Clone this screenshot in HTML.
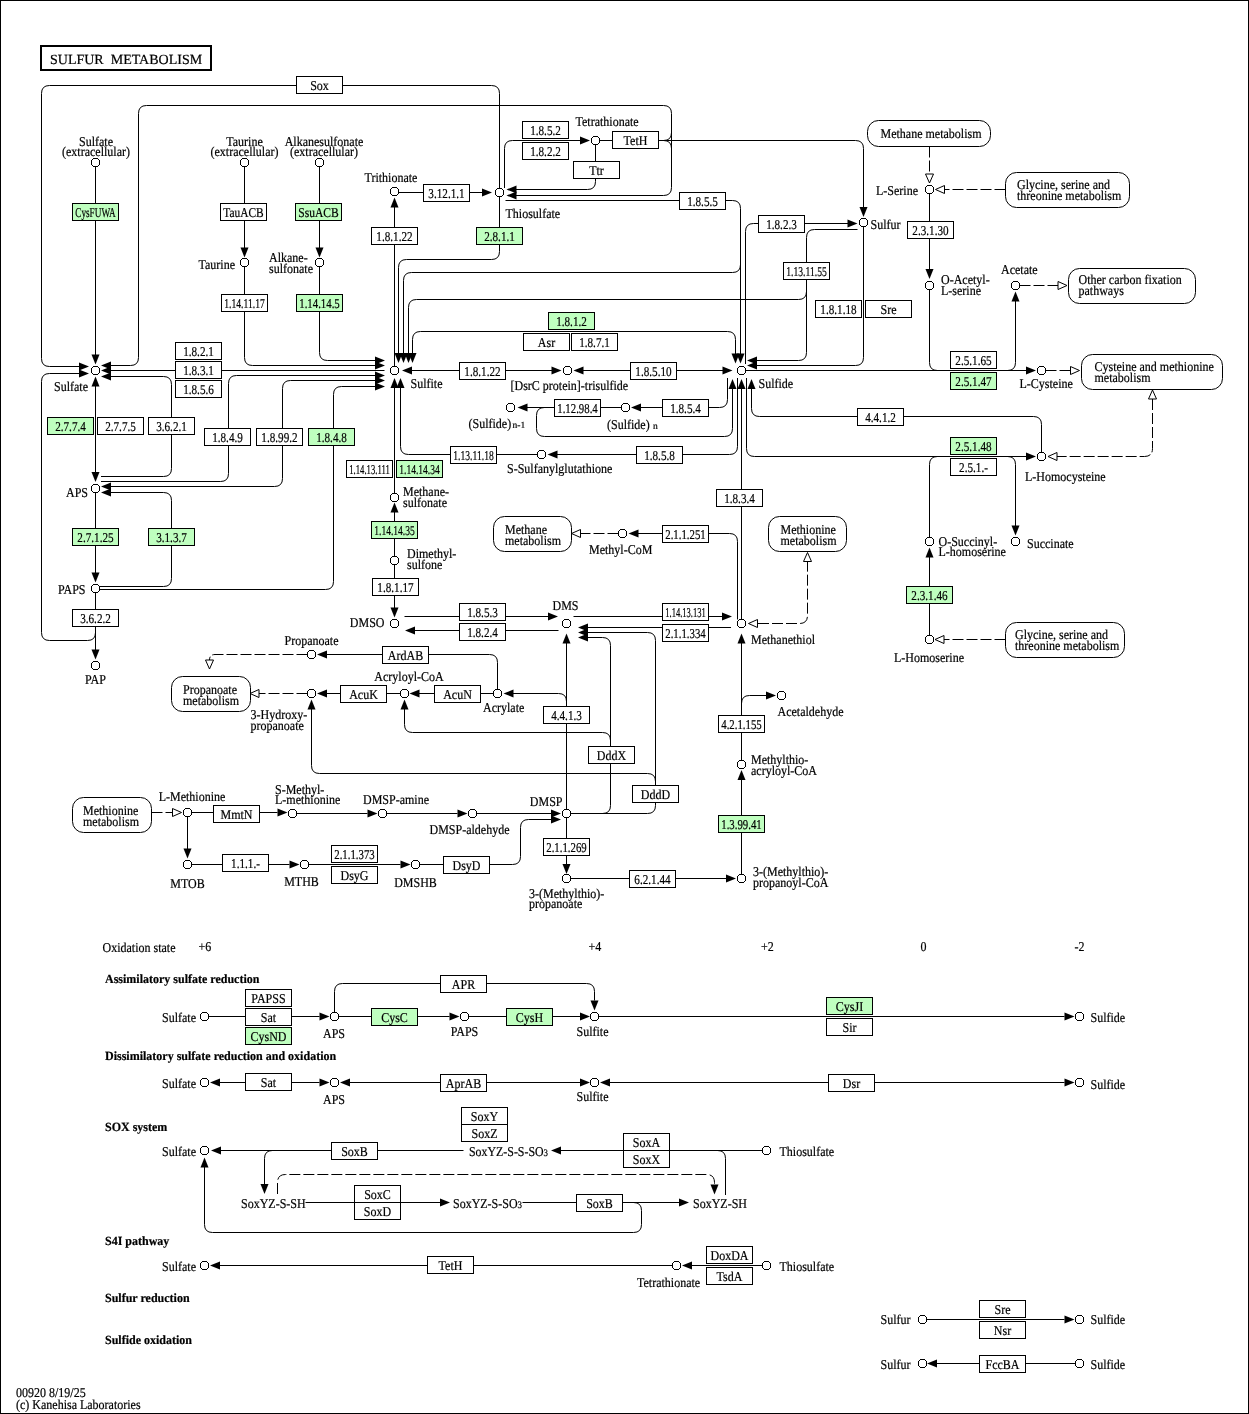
<!DOCTYPE html>
<html><head><meta charset="utf-8"><title>Sulfur metabolism</title>
<style>
html,body{margin:0;padding:0;background:#fff;}
body{width:1249px;height:1414px;overflow:hidden;}
svg{display:block;will-change:transform;}
svg text{font-family:"Liberation Serif",serif;text-rendering:geometricPrecision;stroke:#000;stroke-width:0.2px;font-size:13.5px;fill:#000;}
.bt{font-size:13.5px;}
.t{fill:#000;}
.bt{text-anchor:middle;}
.bold{font-weight:bold;font-size:12.5px;}
path{fill:none;stroke:#000;stroke-width:1;}
.a{fill:#000;stroke:none;}
.o{fill:#fff;stroke:#000;stroke-width:1;}
.c{fill:#fff;stroke:#000;stroke-width:1;shape-rendering:crispEdges;}
.b{fill:#fff;stroke:#000;stroke-width:1;}
.g{fill:#bfffbf;stroke:#000;stroke-width:1;}
.m{fill:#fff;stroke:#000;stroke-width:1;}
</style></head><body>
<svg width="1249" height="1414" viewBox="0 0 1249 1414">
<rect x="0.5" y="0.5" width="1248" height="1413" fill="#fff" stroke="#000" stroke-width="1"/>
<rect x="41" y="46" width="170" height="24" fill="#fff" stroke="#000" stroke-width="2"/>
<text x="50" y="64" style="font-size:14px">SULFUR&#160;&#160;METABOLISM</text>
<path d="M80,366.5 L49.5,366.5 Q41.5,366.5 41.5,358.5 L41.5,93.5 Q41.5,85.5 49.5,85.5 L491.5,85.5 Q499.5,85.5 499.5,93.5 L499.5,188.5"/>
<path d="M80,373.5 L49.5,373.5 Q41.5,373.5 41.5,381.5 L41.5,632.5 Q41.5,640.5 49.5,640.5 L87.5,640.5 Q95.5,640.5 95.5,632.5 L95.5,626"/>
<path d="M109,365.5 L130.5,365.5 Q138.5,365.5 138.5,357.5 L138.5,113.5 Q138.5,105.5 146.5,105.5 L663.5,105.5 Q671.5,105.5 671.5,113.5 L671.5,187.5 Q671.5,195.5 663.5,195.5 L514,195.5"/>
<path d="M658.5,140.5 L663.5,140.5 Q671.5,140.5 671.5,132.5"/>
<path d="M663.5,140.5 Q671.5,140.5 671.5,148.5"/>
<path d="M658.5,140.5 L855.5,140.5 Q863.5,140.5 863.5,148.5 L863.5,207"/>
<path d="M599.5,140.5 L612.5,140.5"/>
<path d="M95.5,166.5 L95.5,355"/>
<path d="M244.5,166.5 L244.5,248.5"/>
<path d="M319.5,166.5 L319.5,248.5"/>
<path d="M244.5,266.5 L244.5,357.5 Q244.5,365.5 252.5,365.5 L375,365.5"/>
<path d="M319.5,266.5 L319.5,352.5 Q319.5,360.5 327.5,360.5 L375,360.5"/>
<path d="M109,370.5 L384.5,370.5"/>
<path d="M109,376.5 L163.5,376.5 Q171.5,376.5 171.5,384.5 L171.5,468.5 Q171.5,476.5 163.5,476.5 L101,476.5"/>
<path d="M375,375.5 L236.5,375.5 Q228.5,375.5 228.5,383.5 L228.5,473.5 Q228.5,481.5 220.5,481.5 L101,481.5"/>
<path d="M375,380.5 L290.5,380.5 Q282.5,380.5 282.5,388.5 L282.5,478.5 Q282.5,486.5 274.5,486.5 L110,486.5"/>
<path d="M375,386.5 L341.5,386.5 Q333.5,386.5 333.5,394.5 L333.5,581.5 Q333.5,589.5 325.5,589.5 L100,589.5"/>
<path d="M110,492.5 L163.5,492.5 Q171.5,492.5 171.5,500.5 L171.5,578.5 Q171.5,586.5 163.5,586.5 L100,586.5"/>
<path d="M95.5,384.5 L95.5,472"/>
<path d="M95.5,492.5 L95.5,573"/>
<path d="M95.5,592.5 L95.5,650"/>
<path d="M394.5,366.5 L394.5,207"/>
<path d="M398.5,192.5 L482,192.5"/>
<path d="M499.5,196.5 L499.5,251.5 Q499.5,259.5 491.5,259.5 L406.5,259.5 Q398.5,259.5 398.5,267.5 L398.5,353"/>
<path d="M740.5,264.5 L740.5,264.5 Q740.5,272.5 732.5,272.5 L411.5,272.5 Q403.5,272.5 403.5,280.5 L403.5,353"/>
<path d="M806.5,290.5 L806.5,291.5 Q806.5,299.5 798.5,299.5 L416.5,299.5 Q408.5,299.5 408.5,307.5 L408.5,353"/>
<path d="M412.5,353 L412.5,339.5 Q412.5,331.5 420.5,331.5 L727.5,331.5 Q735.5,331.5 735.5,339.5 L735.5,354"/>
<path d="M505.5,200.5 L732.5,200.5 Q740.5,200.5 740.5,208.5 L740.5,354"/>
<path d="M745.5,364 L745.5,231.5 Q745.5,223.5 753.5,223.5 L848,223.5"/>
<path d="M857.5,229.5 L814.5,229.5 Q806.5,229.5 806.5,237.5 L806.5,352.5 Q806.5,360.5 798.5,360.5 L756,360.5"/>
<path d="M863.5,226.5 L863.5,357.5 Q863.5,365.5 855.5,365.5 L756,365.5"/>
<path d="M504.5,188 L504.5,148.5 Q504.5,140.5 512.5,140.5 L580,140.5"/>
<path d="M595.5,144.5 L595.5,181.5 Q595.5,189.5 587.5,189.5 L514,189.5"/>
<path d="M411,370.5 L552,370.5"/>
<path d="M582,370.5 L723,370.5"/>
<path d="M621.5,407.5 L525,407.5"/>
<path d="M554.5,407.5 L544.5,407.5 Q536.5,407.5 536.5,415.5 L536.5,428.5 Q536.5,436.5 544.5,436.5 L724.5,436.5 Q732.5,436.5 732.5,428.5 L732.5,388"/>
<path d="M640,407.5 L719.5,407.5 Q727.5,407.5 727.5,399.5 L727.5,378"/>
<path d="M555,454.5 L729.5,454.5 Q737.5,454.5 737.5,446.5 L737.5,378"/>
<path d="M537.5,454.5 L408.5,454.5 Q400.5,454.5 400.5,446.5 L400.5,387"/>
<path d="M394.5,493.5 L394.5,387"/>
<path d="M394.5,556.5 L394.5,511"/>
<path d="M394.5,564.5 L394.5,608"/>
<path d="M404.5,616.5 L548,616.5"/>
<path d="M558.5,630.5 L414,630.5"/>
<path d="M573.5,616.5 L722,616.5"/>
<path d="M731,627.5 L587,627.5"/>
<path d="M570.5,813.5 L647.5,813.5 Q655.5,813.5 655.5,805.5 L655.5,640.5 Q655.5,632.5 647.5,632.5 L587,632.5"/>
<path d="M311.5,709 L311.5,765.5 Q311.5,773.5 319.5,773.5 L647.5,773.5 Q655.5,773.5 655.5,781.5 L655.5,785"/>
<path d="M570.5,813.5 L602.5,813.5 Q610.5,813.5 610.5,805.5 L610.5,645.5 Q610.5,637.5 602.5,637.5 L587,637.5"/>
<path d="M404.5,709 L404.5,724.5 Q404.5,732.5 412.5,732.5 L602.5,732.5 Q610.5,732.5 610.5,740.5 L610.5,745"/>
<path d="M566.5,809.5 L566.5,643"/>
<path d="M513,693.5 L558.5,693.5 Q566.5,693.5 566.5,701.5 L566.5,712"/>
<path d="M497.5,689.5 L497.5,662.5 Q497.5,654.5 489.5,654.5 L326,654.5"/>
<path d="M493.5,693.5 L419,693.5"/>
<path d="M400.5,693.5 L326,693.5"/>
<path d="M307.5,654.5 L215,654.5 Q209.5,654.5 209.5,660 L209.5,660" stroke-dasharray="11,3"/>
<path d="M307.5,693.5 L259,693.5" stroke-dasharray="11,3"/>
<path d="M737.5,619.5 L737.5,541.5 Q737.5,533.5 729.5,533.5 L638,533.5"/>
<path d="M618.5,533.5 L581,533.5" stroke-dasharray="11,3"/>
<path d="M741.5,388 L741.5,619.5"/>
<path d="M758,623.5 L799.5,623.5 Q807.5,623.5 807.5,615.5 L807.5,561" stroke-dasharray="11,3"/>
<path d="M741.5,760.5 L741.5,643"/>
<path d="M741.5,705 L741.5,703.5 Q741.5,695.5 749.5,695.5 L766,695.5"/>
<path d="M741.5,874.5 L741.5,779"/>
<path d="M570.5,878.5 L726,878.5"/>
<path d="M566.5,817.5 L566.5,864"/>
<path d="M191.5,812.5 L277.5,812.5"/>
<path d="M296.5,813.5 L367.5,813.5"/>
<path d="M386.5,813.5 L457.5,813.5"/>
<path d="M476.5,813.5 L551,813.5"/>
<path d="M419.5,864.5 L512.5,864.5 Q520.5,864.5 520.5,856.5 L520.5,827.5 Q520.5,819.5 528.5,819.5 L551,819.5"/>
<path d="M187.5,816.5 L187.5,849"/>
<path d="M191.5,864.5 L289.5,864.5"/>
<path d="M308.5,864.5 L400.5,864.5"/>
<path d="M151.5,812.5 L172,812.5" stroke-dasharray="11,3"/>
<path d="M929.5,146.5 L929.5,174" stroke-dasharray="11,3"/>
<path d="M1005.5,189.5 L945,189.5" stroke-dasharray="11,3"/>
<path d="M929.5,193.5 L929.5,269"/>
<path d="M929.5,289.5 L929.5,362.5 Q929.5,370.5 937.5,370.5 L940,370.5"/>
<path d="M1005,370.5 L1007.5,370.5 Q1015.5,370.5 1015.5,362.5 L1015.5,301"/>
<path d="M745.5,370.5 L1026,370.5"/>
<path d="M1045.5,370.5 L1070,370.5" stroke-dasharray="11,3"/>
<path d="M1019.5,285.5 L1058,285.5" stroke-dasharray="11,3"/>
<path d="M751.5,388 L751.5,408.5 Q751.5,416.5 759.5,416.5 L1033.5,416.5 Q1041.5,416.5 1041.5,424.5 L1041.5,452.5"/>
<path d="M746.5,378 L746.5,448.5 Q746.5,456.5 754.5,456.5 L1026,456.5"/>
<path d="M929.5,537.5 L929.5,464.5 Q929.5,456.5 937.5,456.5 L940,456.5"/>
<path d="M1005,456.5 L1007.5,456.5 Q1015.5,456.5 1015.5,464.5 L1015.5,526"/>
<path d="M1152.5,399 L1152.5,448.5 Q1152.5,456.5 1144.5,456.5 L1057,456.5" stroke-dasharray="11,3"/>
<path d="M929.5,635.5 L929.5,557"/>
<path d="M1005.5,639.5 L944,639.5" stroke-dasharray="11,3"/>
<path d="M208.5,1016.5 L319.5,1016.5"/>
<path d="M338.5,1016.5 L449.5,1016.5"/>
<path d="M468.5,1016.5 L580,1016.5"/>
<path d="M598.5,1016.5 L1064.5,1016.5"/>
<path d="M334.5,1012.5 L334.5,991.5 Q334.5,983.5 342.5,983.5 L586.5,983.5 Q594.5,983.5 594.5,991.5 L594.5,1000.5"/>
<path d="M220,1082.5 L319.5,1082.5"/>
<path d="M350,1082.5 L580,1082.5"/>
<path d="M610,1082.5 L1064.5,1082.5"/>
<path d="M221,1150.5 L463.5,1150.5"/>
<path d="M561,1150.5 L762.5,1150.5"/>
<path d="M272.5,1150.5 L272.5,1150.5 Q264.5,1150.5 264.5,1158.5 L264.5,1184"/>
<path d="M710,1150.5 L717.5,1150.5 Q725.5,1150.5 725.5,1158.5 L725.5,1195"/>
<path d="M277.5,1194 L277.5,1182.5 Q277.5,1174.5 285.5,1174.5 L706.5,1174.5 Q714.5,1174.5 714.5,1182.5 L714.5,1184" stroke-dasharray="11,3"/>
<path d="M305.5,1202.5 L440,1202.5"/>
<path d="M522.5,1202.5 L679,1202.5"/>
<path d="M622.5,1202.5 L633.5,1202.5 Q641.5,1202.5 641.5,1210.5 L641.5,1224.5 Q641.5,1232.5 633.5,1232.5 L212.5,1232.5 Q204.5,1232.5 204.5,1224.5 L204.5,1167"/>
<path d="M220,1265.5 L672.5,1265.5"/>
<path d="M692,1265.5 L762.5,1265.5"/>
<path d="M926.5,1319.5 L1064.5,1319.5"/>
<path d="M937,1363.5 L1075.5,1363.5"/>
<polygon class="a" points="95.5,364.5 91.5,354.5 99.5,354.5"/>
<polygon class="a" points="89,366.5 79,370.5 79,362.5"/>
<polygon class="a" points="89,373.5 79,377.5 79,369.5"/>
<polygon class="a" points="101,365.5 111,361.5 111,369.5"/>
<polygon class="a" points="101,370.5 111,366.5 111,374.5"/>
<polygon class="a" points="101,376.5 111,372.5 111,380.5"/>
<polygon class="a" points="95.5,376.5 99.5,386.5 91.5,386.5"/>
<polygon class="a" points="95.5,482 91.5,472 99.5,472"/>
<polygon class="a" points="101,486.5 111,482.5 111,490.5"/>
<polygon class="a" points="101,492.5 111,488.5 111,496.5"/>
<polygon class="a" points="95.5,582.5 91.5,572.5 99.5,572.5"/>
<polygon class="a" points="95.5,659.5 91.5,649.5 99.5,649.5"/>
<polygon class="a" points="244.5,257.5 240.5,247.5 248.5,247.5"/>
<polygon class="a" points="319.5,257.5 315.5,247.5 323.5,247.5"/>
<polygon class="a" points="385,360.5 375,364.5 375,356.5"/>
<polygon class="a" points="385,365.5 375,369.5 375,361.5"/>
<polygon class="a" points="385,375.5 375,379.5 375,371.5"/>
<polygon class="a" points="385,380.5 375,384.5 375,376.5"/>
<polygon class="a" points="385,386.5 375,390.5 375,382.5"/>
<polygon class="a" points="398.5,363 394.5,353 402.5,353"/>
<polygon class="a" points="403.5,363 399.5,353 407.5,353"/>
<polygon class="a" points="408.5,363 404.5,353 412.5,353"/>
<polygon class="a" points="412.5,363 408.5,353 416.5,353"/>
<polygon class="a" points="394.5,378 398.5,388 390.5,388"/>
<polygon class="a" points="400.5,378 404.5,388 396.5,388"/>
<polygon class="a" points="402,370.5 412,366.5 412,374.5"/>
<polygon class="a" points="394.5,197.5 398.5,207.5 390.5,207.5"/>
<polygon class="a" points="492,192.5 482,196.5 482,188.5"/>
<polygon class="a" points="506.5,189.5 516.5,185.5 516.5,193.5"/>
<polygon class="a" points="506.5,195.5 516.5,191.5 516.5,199.5"/>
<polygon class="a" points="590,140.5 580,144.5 580,136.5"/>
<polygon class="a" points="863.5,217 859.5,207 867.5,207"/>
<polygon class="a" points="857.5,223.5 847.5,227.5 847.5,219.5"/>
<polygon class="a" points="735.5,363.5 731.5,353.5 739.5,353.5"/>
<polygon class="a" points="740.5,363.5 736.5,353.5 744.5,353.5"/>
<polygon class="a" points="747,360.5 757,356.5 757,364.5"/>
<polygon class="a" points="747,365.5 757,361.5 757,369.5"/>
<polygon class="a" points="732.5,370.5 722.5,374.5 722.5,366.5"/>
<polygon class="a" points="732.5,379 736.5,389 728.5,389"/>
<polygon class="a" points="741.5,379 745.5,389 737.5,389"/>
<polygon class="a" points="751.5,379 755.5,389 747.5,389"/>
<polygon class="a" points="561.5,370.5 551.5,374.5 551.5,366.5"/>
<polygon class="a" points="573.5,370.5 583.5,366.5 583.5,374.5"/>
<polygon class="a" points="517.5,407.5 527.5,403.5 527.5,411.5"/>
<polygon class="a" points="631,407.5 641,403.5 641,411.5"/>
<polygon class="a" points="547.5,454.5 557.5,450.5 557.5,458.5"/>
<polygon class="a" points="394.5,502.5 398.5,512.5 390.5,512.5"/>
<polygon class="a" points="394.5,617.5 390.5,607.5 398.5,607.5"/>
<polygon class="a" points="405,630.5 415,626.5 415,634.5"/>
<polygon class="a" points="558,616.5 548,620.5 548,612.5"/>
<polygon class="a" points="578,627.5 588,623.5 588,631.5"/>
<polygon class="a" points="578,632.5 588,628.5 588,636.5"/>
<polygon class="a" points="578,637.5 588,633.5 588,641.5"/>
<polygon class="a" points="566.5,633.5 570.5,643.5 562.5,643.5"/>
<polygon class="a" points="732,616.5 722,620.5 722,612.5"/>
<polygon class="a" points="741.5,633.5 745.5,643.5 737.5,643.5"/>
<polygon class="a" points="628.5,533.5 638.5,529.5 638.5,537.5"/>
<polygon class="a" points="317,654.5 327,650.5 327,658.5"/>
<polygon class="a" points="317,693.5 327,689.5 327,697.5"/>
<polygon class="a" points="409.5,693.5 419.5,689.5 419.5,697.5"/>
<polygon class="a" points="503.5,693.5 513.5,689.5 513.5,697.5"/>
<polygon class="a" points="311.5,699.5 315.5,709.5 307.5,709.5"/>
<polygon class="a" points="404.5,699.5 408.5,709.5 400.5,709.5"/>
<polygon class="a" points="776,695.5 766,699.5 766,691.5"/>
<polygon class="a" points="741.5,770 745.5,780 737.5,780"/>
<polygon class="a" points="736,878.5 726,882.5 726,874.5"/>
<polygon class="a" points="566.5,874 562.5,864 570.5,864"/>
<polygon class="a" points="287.5,812.5 277.5,816.5 277.5,808.5"/>
<polygon class="a" points="377.5,813.5 367.5,817.5 367.5,809.5"/>
<polygon class="a" points="467.5,813.5 457.5,817.5 457.5,809.5"/>
<polygon class="a" points="561,813.5 551,817.5 551,809.5"/>
<polygon class="a" points="561,819.5 551,823.5 551,815.5"/>
<polygon class="a" points="187.5,858.5 183.5,848.5 191.5,848.5"/>
<polygon class="a" points="299.5,864.5 289.5,868.5 289.5,860.5"/>
<polygon class="a" points="410.5,864.5 400.5,868.5 400.5,860.5"/>
<polygon class="a" points="929.5,279 925.5,269 933.5,269"/>
<polygon class="a" points="1015.5,291.5 1019.5,301.5 1011.5,301.5"/>
<polygon class="a" points="1036,370.5 1026,374.5 1026,366.5"/>
<polygon class="a" points="1036,456.5 1026,460.5 1026,452.5"/>
<polygon class="a" points="1015.5,535.5 1011.5,525.5 1019.5,525.5"/>
<polygon class="a" points="929.5,547.5 933.5,557.5 925.5,557.5"/>
<polygon class="a" points="329.5,1016.5 319.5,1020.5 319.5,1012.5"/>
<polygon class="a" points="459.5,1016.5 449.5,1020.5 449.5,1012.5"/>
<polygon class="a" points="590,1016.5 580,1020.5 580,1012.5"/>
<polygon class="a" points="594.5,1010.5 590.5,1000.5 598.5,1000.5"/>
<polygon class="a" points="1074.5,1016.5 1064.5,1020.5 1064.5,1012.5"/>
<polygon class="a" points="210,1082.5 220,1078.5 220,1086.5"/>
<polygon class="a" points="329.5,1082.5 319.5,1086.5 319.5,1078.5"/>
<polygon class="a" points="340,1082.5 350,1078.5 350,1086.5"/>
<polygon class="a" points="590,1082.5 580,1086.5 580,1078.5"/>
<polygon class="a" points="600,1082.5 610,1078.5 610,1086.5"/>
<polygon class="a" points="1074.5,1082.5 1064.5,1086.5 1064.5,1078.5"/>
<polygon class="a" points="211,1150.5 221,1146.5 221,1154.5"/>
<polygon class="a" points="551,1150.5 561,1146.5 561,1154.5"/>
<polygon class="a" points="264.5,1194 260.5,1184 268.5,1184"/>
<polygon class="a" points="714.5,1194.5 710.5,1184.5 718.5,1184.5"/>
<polygon class="a" points="450,1202.5 440,1206.5 440,1198.5"/>
<polygon class="a" points="689,1202.5 679,1206.5 679,1198.5"/>
<polygon class="a" points="204.5,1157.5 208.5,1167.5 200.5,1167.5"/>
<polygon class="a" points="210,1265.5 220,1261.5 220,1269.5"/>
<polygon class="a" points="682,1265.5 692,1261.5 692,1269.5"/>
<polygon class="a" points="1074.5,1319.5 1064.5,1323.5 1064.5,1315.5"/>
<polygon class="a" points="927,1363.5 937,1359.5 937,1367.5"/>
<polygon class="o" points="209.5,669 205.5,660 213.5,660"/>
<polygon class="o" points="250,693.5 259,689.5 259,697.5"/>
<polygon class="o" points="181.5,812.5 172.5,816.5 172.5,808.5"/>
<polygon class="o" points="571.5,533.5 580.5,529.5 580.5,537.5"/>
<polygon class="o" points="748.5,623.5 757.5,619.5 757.5,627.5"/>
<polygon class="o" points="807.5,552.5 811.5,561.5 803.5,561.5"/>
<polygon class="o" points="929.5,183 925.5,174 933.5,174"/>
<polygon class="o" points="935.5,189.5 944.5,185.5 944.5,193.5"/>
<polygon class="o" points="1067,285.5 1058,289.5 1058,281.5"/>
<polygon class="o" points="1079.5,370.5 1070.5,374.5 1070.5,366.5"/>
<polygon class="o" points="1152.5,390 1156.5,399 1148.5,399"/>
<polygon class="o" points="1048,456.5 1057,452.5 1057,460.5"/>
<polygon class="o" points="935,639.5 944,635.5 944,643.5"/>
<rect class="b" x="296.5" y="76.5" width="46" height="17"/>
<text class="bt" x="319.5" y="89.7" textLength="18.67" lengthAdjust="spacingAndGlyphs">Sox</text>
<rect class="g" x="72.5" y="203.5" width="46" height="17"/>
<text class="bt" x="95.5" y="216.7" textLength="40.5" lengthAdjust="spacingAndGlyphs">CysFUWA</text>
<rect class="b" x="220.5" y="203.5" width="46" height="17"/>
<text class="bt" x="243.5" y="216.7" textLength="40.5" lengthAdjust="spacingAndGlyphs">TauACB</text>
<rect class="g" x="295.5" y="203.5" width="46" height="17"/>
<text class="bt" x="318.5" y="216.7" textLength="40.5" lengthAdjust="spacingAndGlyphs">SsuACB</text>
<rect class="b" x="221.5" y="294.5" width="46" height="17"/>
<text class="bt" x="244.5" y="307.7" textLength="40.5" lengthAdjust="spacingAndGlyphs">1.14.11.17</text>
<rect class="g" x="296.5" y="294.5" width="46" height="17"/>
<text class="bt" x="319.5" y="307.7" textLength="40.5" lengthAdjust="spacingAndGlyphs">1.14.14.5</text>
<rect class="b" x="175.5" y="342.5" width="46" height="17"/>
<text class="bt" x="198.5" y="355.7" textLength="30.69" lengthAdjust="spacingAndGlyphs">1.8.2.1</text>
<rect class="b" x="175.5" y="361.5" width="46" height="17"/>
<text class="bt" x="198.5" y="374.7" textLength="30.69" lengthAdjust="spacingAndGlyphs">1.8.3.1</text>
<rect class="b" x="175.5" y="380.5" width="46" height="17"/>
<text class="bt" x="198.5" y="393.7" textLength="30.69" lengthAdjust="spacingAndGlyphs">1.8.5.6</text>
<rect class="g" x="47.5" y="417.5" width="46" height="17"/>
<text class="bt" x="70.5" y="430.7" textLength="30.69" lengthAdjust="spacingAndGlyphs">2.7.7.4</text>
<rect class="b" x="97.5" y="417.5" width="46" height="17"/>
<text class="bt" x="120.5" y="430.7" textLength="30.69" lengthAdjust="spacingAndGlyphs">2.7.7.5</text>
<rect class="b" x="148.5" y="417.5" width="46" height="17"/>
<text class="bt" x="171.5" y="430.7" textLength="30.69" lengthAdjust="spacingAndGlyphs">3.6.2.1</text>
<rect class="b" x="204.5" y="428.5" width="46" height="17"/>
<text class="bt" x="227.5" y="441.7" textLength="30.69" lengthAdjust="spacingAndGlyphs">1.8.4.9</text>
<rect class="b" x="256.5" y="428.5" width="46" height="17"/>
<text class="bt" x="279.5" y="441.7" textLength="36.27" lengthAdjust="spacingAndGlyphs">1.8.99.2</text>
<rect class="g" x="308.5" y="428.5" width="46" height="17"/>
<text class="bt" x="331.5" y="441.7" textLength="30.69" lengthAdjust="spacingAndGlyphs">1.8.4.8</text>
<rect class="g" x="72.5" y="528.5" width="46" height="17"/>
<text class="bt" x="95.5" y="541.7" textLength="36.27" lengthAdjust="spacingAndGlyphs">2.7.1.25</text>
<rect class="g" x="148.5" y="528.5" width="46" height="17"/>
<text class="bt" x="171.5" y="541.7" textLength="30.69" lengthAdjust="spacingAndGlyphs">3.1.3.7</text>
<rect class="b" x="72.5" y="609.5" width="46" height="17"/>
<text class="bt" x="95.5" y="622.7" textLength="30.69" lengthAdjust="spacingAndGlyphs">3.6.2.2</text>
<rect class="b" x="371.5" y="227.5" width="46" height="17"/>
<text class="bt" x="394.5" y="240.7" textLength="36.27" lengthAdjust="spacingAndGlyphs">1.8.1.22</text>
<rect class="b" x="423.5" y="184.5" width="46" height="17"/>
<text class="bt" x="446.5" y="197.7" textLength="36.27" lengthAdjust="spacingAndGlyphs">3.12.1.1</text>
<rect class="g" x="476.5" y="227.5" width="46" height="17"/>
<text class="bt" x="499.5" y="240.7" textLength="30.69" lengthAdjust="spacingAndGlyphs">2.8.1.1</text>
<rect class="b" x="522.5" y="121.5" width="46" height="17"/>
<text class="bt" x="545.5" y="134.7" textLength="30.69" lengthAdjust="spacingAndGlyphs">1.8.5.2</text>
<rect class="b" x="522.5" y="142.5" width="46" height="17"/>
<text class="bt" x="545.5" y="155.7" textLength="30.69" lengthAdjust="spacingAndGlyphs">1.8.2.2</text>
<rect class="b" x="573.5" y="161.5" width="46" height="17"/>
<text class="bt" x="596.5" y="174.7" textLength="14.66" lengthAdjust="spacingAndGlyphs">Ttr</text>
<rect class="b" x="612.5" y="131.5" width="46" height="17"/>
<text class="bt" x="635.5" y="144.7" textLength="23.82" lengthAdjust="spacingAndGlyphs">TetH</text>
<rect class="b" x="679.5" y="192.5" width="46" height="17"/>
<text class="bt" x="702.5" y="205.7" textLength="30.69" lengthAdjust="spacingAndGlyphs">1.8.5.5</text>
<rect class="b" x="758.5" y="215.5" width="46" height="17"/>
<text class="bt" x="781.5" y="228.7" textLength="30.69" lengthAdjust="spacingAndGlyphs">1.8.2.3</text>
<rect class="b" x="783.5" y="262.5" width="46" height="17"/>
<text class="bt" x="806.5" y="275.7" textLength="40.5" lengthAdjust="spacingAndGlyphs">1.13.11.55</text>
<rect class="b" x="815.5" y="300.5" width="46" height="17"/>
<text class="bt" x="838.5" y="313.7" textLength="36.27" lengthAdjust="spacingAndGlyphs">1.8.1.18</text>
<rect class="b" x="865.5" y="300.5" width="46" height="17"/>
<text class="bt" x="888.5" y="313.7" textLength="16" lengthAdjust="spacingAndGlyphs">Sre</text>
<rect class="g" x="548.5" y="312.5" width="46" height="17"/>
<text class="bt" x="571.5" y="325.7" textLength="30.69" lengthAdjust="spacingAndGlyphs">1.8.1.2</text>
<rect class="b" x="523.5" y="333.5" width="46" height="17"/>
<text class="bt" x="546.5" y="346.7" textLength="17.33" lengthAdjust="spacingAndGlyphs">Asr</text>
<rect class="b" x="571.5" y="333.5" width="46" height="17"/>
<text class="bt" x="594.5" y="346.7" textLength="30.69" lengthAdjust="spacingAndGlyphs">1.8.7.1</text>
<rect class="b" x="459.5" y="362.5" width="46" height="17"/>
<text class="bt" x="482.5" y="375.7" textLength="36.27" lengthAdjust="spacingAndGlyphs">1.8.1.22</text>
<rect class="b" x="630.5" y="362.5" width="46" height="17"/>
<text class="bt" x="653.5" y="375.7" textLength="36.27" lengthAdjust="spacingAndGlyphs">1.8.5.10</text>
<rect class="b" x="554.5" y="399.5" width="46" height="17"/>
<text class="bt" x="577.5" y="412.7" textLength="40.5" lengthAdjust="spacingAndGlyphs">1.12.98.4</text>
<rect class="b" x="662.5" y="399.5" width="46" height="17"/>
<text class="bt" x="685.5" y="412.7" textLength="30.69" lengthAdjust="spacingAndGlyphs">1.8.5.4</text>
<rect class="b" x="450.5" y="446.5" width="46" height="17"/>
<text class="bt" x="473.5" y="459.7" textLength="40.5" lengthAdjust="spacingAndGlyphs">1.13.11.18</text>
<rect class="b" x="636.5" y="446.5" width="46" height="17"/>
<text class="bt" x="659.5" y="459.7" textLength="30.69" lengthAdjust="spacingAndGlyphs">1.8.5.8</text>
<rect class="b" x="346.5" y="460.5" width="46" height="17"/>
<text class="bt" x="369.5" y="473.7" textLength="40.5" lengthAdjust="spacingAndGlyphs">1.14.13.111</text>
<rect class="g" x="396.5" y="460.5" width="46" height="17"/>
<text class="bt" x="419.5" y="473.7" textLength="40.5" lengthAdjust="spacingAndGlyphs">1.14.14.34</text>
<rect class="g" x="371.5" y="521.5" width="46" height="17"/>
<text class="bt" x="394.5" y="534.7" textLength="40.5" lengthAdjust="spacingAndGlyphs">1.14.14.35</text>
<rect class="b" x="372.5" y="578.5" width="46" height="17"/>
<text class="bt" x="395.5" y="591.7" textLength="36.27" lengthAdjust="spacingAndGlyphs">1.8.1.17</text>
<rect class="b" x="716.5" y="489.5" width="46" height="17"/>
<text class="bt" x="739.5" y="502.7" textLength="30.69" lengthAdjust="spacingAndGlyphs">1.8.3.4</text>
<rect class="b" x="662.5" y="525.5" width="46" height="17"/>
<text class="bt" x="685.5" y="538.7" textLength="40.5" lengthAdjust="spacingAndGlyphs">2.1.1.251</text>
<rect class="b" x="459.5" y="603.5" width="46" height="17"/>
<text class="bt" x="482.5" y="616.7" textLength="30.69" lengthAdjust="spacingAndGlyphs">1.8.5.3</text>
<rect class="b" x="459.5" y="623.5" width="46" height="17"/>
<text class="bt" x="482.5" y="636.7" textLength="30.69" lengthAdjust="spacingAndGlyphs">1.8.2.4</text>
<rect class="b" x="662.5" y="603.5" width="46" height="17"/>
<text class="bt" x="685.5" y="616.7" textLength="40.5" lengthAdjust="spacingAndGlyphs">1.14.13.131</text>
<rect class="b" x="662.5" y="624.5" width="46" height="17"/>
<text class="bt" x="685.5" y="637.7" textLength="40.5" lengthAdjust="spacingAndGlyphs">2.1.1.334</text>
<rect class="b" x="382.5" y="646.5" width="46" height="17"/>
<text class="bt" x="405.5" y="659.7" textLength="35.33" lengthAdjust="spacingAndGlyphs">ArdAB</text>
<rect class="b" x="340.5" y="685.5" width="46" height="17"/>
<text class="bt" x="363.5" y="698.7" textLength="28.66" lengthAdjust="spacingAndGlyphs">AcuK</text>
<rect class="b" x="434.5" y="685.5" width="46" height="17"/>
<text class="bt" x="457.5" y="698.7" textLength="28.66" lengthAdjust="spacingAndGlyphs">AcuN</text>
<rect class="b" x="543.5" y="706.5" width="46" height="17"/>
<text class="bt" x="566.5" y="719.7" textLength="30.69" lengthAdjust="spacingAndGlyphs">4.4.1.3</text>
<rect class="b" x="588.5" y="746.5" width="46" height="17"/>
<text class="bt" x="611.5" y="759.7" textLength="29.33" lengthAdjust="spacingAndGlyphs">DddX</text>
<rect class="b" x="632.5" y="785.5" width="46" height="17"/>
<text class="bt" x="655.5" y="798.7" textLength="29.33" lengthAdjust="spacingAndGlyphs">DddD</text>
<rect class="b" x="718.5" y="715.5" width="46" height="17"/>
<text class="bt" x="741.5" y="728.7" textLength="40.5" lengthAdjust="spacingAndGlyphs">4.2.1.155</text>
<rect class="g" x="718.5" y="815.5" width="46" height="17"/>
<text class="bt" x="741.5" y="828.7" textLength="40.5" lengthAdjust="spacingAndGlyphs">1.3.99.41</text>
<rect class="b" x="213.5" y="805.5" width="46" height="17"/>
<text class="bt" x="236.5" y="818.7" textLength="32" lengthAdjust="spacingAndGlyphs">MmtN</text>
<rect class="b" x="222.5" y="854.5" width="46" height="17"/>
<text class="bt" x="245.5" y="867.7" textLength="28.83" lengthAdjust="spacingAndGlyphs">1.1.1.-</text>
<rect class="b" x="331.5" y="845.5" width="46" height="17"/>
<text class="bt" x="354.5" y="858.7" textLength="40.5" lengthAdjust="spacingAndGlyphs">2.1.1.373</text>
<rect class="b" x="331.5" y="866.5" width="46" height="17"/>
<text class="bt" x="354.5" y="879.7" textLength="28" lengthAdjust="spacingAndGlyphs">DsyG</text>
<rect class="b" x="443.5" y="856.5" width="46" height="17"/>
<text class="bt" x="466.5" y="869.7" textLength="28" lengthAdjust="spacingAndGlyphs">DsyD</text>
<rect class="b" x="543.5" y="838.5" width="46" height="17"/>
<text class="bt" x="566.5" y="851.7" textLength="40.5" lengthAdjust="spacingAndGlyphs">2.1.1.269</text>
<rect class="b" x="629.5" y="870.5" width="46" height="17"/>
<text class="bt" x="652.5" y="883.7" textLength="36.27" lengthAdjust="spacingAndGlyphs">6.2.1.44</text>
<rect class="b" x="857.5" y="408.5" width="46" height="17"/>
<text class="bt" x="880.5" y="421.7" textLength="30.69" lengthAdjust="spacingAndGlyphs">4.4.1.2</text>
<rect class="b" x="950.5" y="351.5" width="46" height="17"/>
<text class="bt" x="973.5" y="364.7" textLength="36.27" lengthAdjust="spacingAndGlyphs">2.5.1.65</text>
<rect class="g" x="950.5" y="372.5" width="46" height="17"/>
<text class="bt" x="973.5" y="385.7" textLength="36.27" lengthAdjust="spacingAndGlyphs">2.5.1.47</text>
<rect class="g" x="950.5" y="437.5" width="46" height="17"/>
<text class="bt" x="973.5" y="450.7" textLength="36.27" lengthAdjust="spacingAndGlyphs">2.5.1.48</text>
<rect class="b" x="950.5" y="458.5" width="46" height="17"/>
<text class="bt" x="973.5" y="471.7" textLength="28.83" lengthAdjust="spacingAndGlyphs">2.5.1.-</text>
<rect class="b" x="907.5" y="221.5" width="46" height="17"/>
<text class="bt" x="930.5" y="234.7" textLength="36.27" lengthAdjust="spacingAndGlyphs">2.3.1.30</text>
<rect class="g" x="906.5" y="586.5" width="46" height="17"/>
<text class="bt" x="929.5" y="599.7" textLength="36.27" lengthAdjust="spacingAndGlyphs">2.3.1.46</text>
<rect class="b" x="245.5" y="989.5" width="46" height="17"/>
<text class="bt" x="268.5" y="1002.7" textLength="34.26" lengthAdjust="spacingAndGlyphs">PAPSS</text>
<rect class="b" x="245.5" y="1008.5" width="46" height="17"/>
<text class="bt" x="268.5" y="1021.7" textLength="15.33" lengthAdjust="spacingAndGlyphs">Sat</text>
<rect class="g" x="245.5" y="1027.5" width="46" height="17"/>
<text class="bt" x="268.5" y="1040.7" textLength="36.01" lengthAdjust="spacingAndGlyphs">CysND</text>
<rect class="b" x="440.5" y="975.5" width="46" height="17"/>
<text class="bt" x="463.5" y="988.7" textLength="23.34" lengthAdjust="spacingAndGlyphs">APR</text>
<rect class="g" x="371.5" y="1008.5" width="46" height="17"/>
<text class="bt" x="394.5" y="1021.7" textLength="26.68" lengthAdjust="spacingAndGlyphs">CysC</text>
<rect class="g" x="506.5" y="1008.5" width="46" height="17"/>
<text class="bt" x="529.5" y="1021.7" textLength="27.34" lengthAdjust="spacingAndGlyphs">CysH</text>
<rect class="g" x="826.5" y="997.5" width="46" height="17"/>
<text class="bt" x="849.5" y="1010.7" textLength="27.34" lengthAdjust="spacingAndGlyphs">CysJI</text>
<rect class="b" x="826.5" y="1018.5" width="46" height="17"/>
<text class="bt" x="849.5" y="1031.7" textLength="14" lengthAdjust="spacingAndGlyphs">Sir</text>
<rect class="b" x="245.5" y="1073.5" width="46" height="17"/>
<text class="bt" x="268.5" y="1086.7" textLength="15.33" lengthAdjust="spacingAndGlyphs">Sat</text>
<rect class="b" x="440.5" y="1074.5" width="46" height="17"/>
<text class="bt" x="463.5" y="1087.7" textLength="35.33" lengthAdjust="spacingAndGlyphs">AprAB</text>
<rect class="b" x="828.5" y="1074.5" width="46" height="17"/>
<text class="bt" x="851.5" y="1087.7" textLength="17.33" lengthAdjust="spacingAndGlyphs">Dsr</text>
<rect class="b" x="461.5" y="1107.5" width="46" height="17"/>
<text class="bt" x="484.5" y="1120.7" textLength="27.34" lengthAdjust="spacingAndGlyphs">SoxY</text>
<rect class="b" x="461.5" y="1124.5" width="46" height="17"/>
<text class="bt" x="484.5" y="1137.7" textLength="26" lengthAdjust="spacingAndGlyphs">SoxZ</text>
<rect class="b" x="331.5" y="1142.5" width="46" height="17"/>
<text class="bt" x="354.5" y="1155.7" textLength="26.68" lengthAdjust="spacingAndGlyphs">SoxB</text>
<rect class="b" x="623.5" y="1133.5" width="46" height="17"/>
<text class="bt" x="646.5" y="1146.7" textLength="27.34" lengthAdjust="spacingAndGlyphs">SoxA</text>
<rect class="b" x="623.5" y="1150.5" width="46" height="17"/>
<text class="bt" x="646.5" y="1163.7" textLength="27.34" lengthAdjust="spacingAndGlyphs">SoxX</text>
<rect class="b" x="354.5" y="1185.5" width="46" height="17"/>
<text class="bt" x="377.5" y="1198.7" textLength="26.68" lengthAdjust="spacingAndGlyphs">SoxC</text>
<rect class="b" x="354.5" y="1202.5" width="46" height="17"/>
<text class="bt" x="377.5" y="1215.7" textLength="27.34" lengthAdjust="spacingAndGlyphs">SoxD</text>
<rect class="b" x="576.5" y="1194.5" width="46" height="17"/>
<text class="bt" x="599.5" y="1207.7" textLength="26.68" lengthAdjust="spacingAndGlyphs">SoxB</text>
<rect class="b" x="427.5" y="1256.5" width="46" height="17"/>
<text class="bt" x="450.5" y="1269.7" textLength="23.82" lengthAdjust="spacingAndGlyphs">TetH</text>
<rect class="b" x="706.5" y="1246.5" width="46" height="17"/>
<text class="bt" x="729.5" y="1259.7" textLength="38" lengthAdjust="spacingAndGlyphs">DoxDA</text>
<rect class="b" x="706.5" y="1267.5" width="46" height="17"/>
<text class="bt" x="729.5" y="1280.7" textLength="25.83" lengthAdjust="spacingAndGlyphs">TsdA</text>
<rect class="b" x="979.5" y="1300.5" width="46" height="17"/>
<text class="bt" x="1002.5" y="1313.7" textLength="16" lengthAdjust="spacingAndGlyphs">Sre</text>
<rect class="b" x="979.5" y="1321.5" width="46" height="17"/>
<text class="bt" x="1002.5" y="1334.7" textLength="17.33" lengthAdjust="spacingAndGlyphs">Nsr</text>
<rect class="b" x="979.5" y="1355.5" width="46" height="17"/>
<text class="bt" x="1002.5" y="1368.7" textLength="34" lengthAdjust="spacingAndGlyphs">FccBA</text>
<rect class="m" x="867.5" y="120.5" width="123" height="26" rx="11" ry="11"/>
<text class="t" x="931" y="138.2" text-anchor="middle" textLength="100.98" lengthAdjust="spacingAndGlyphs">Methane metabolism</text>
<rect class="m" x="1005.5" y="172.5" width="124" height="35" rx="11" ry="11"/>
<text class="t" x="1017" y="189.2" textLength="92.97" lengthAdjust="spacingAndGlyphs">Glycine, serine and</text>
<text class="t" x="1017" y="200.2" textLength="104.31" lengthAdjust="spacingAndGlyphs">threonine metabolism</text>
<rect class="m" x="1068.5" y="268.5" width="127" height="35" rx="11" ry="11"/>
<text class="t" x="1078.5" y="284.2" textLength="103.3" lengthAdjust="spacingAndGlyphs">Other carbon fixation</text>
<text class="t" x="1078.5" y="295.2" textLength="45.32" lengthAdjust="spacingAndGlyphs">pathways</text>
<rect class="m" x="1081.5" y="354.5" width="141" height="35" rx="11" ry="11"/>
<text class="t" x="1094.5" y="371.2" textLength="119.31" lengthAdjust="spacingAndGlyphs">Cysteine and methionine</text>
<text class="t" x="1094.5" y="382.2" textLength="56" lengthAdjust="spacingAndGlyphs">metabolism</text>
<rect class="m" x="171.5" y="676.5" width="79" height="35" rx="11" ry="11"/>
<text class="t" x="183" y="694.2" textLength="53.98" lengthAdjust="spacingAndGlyphs">Propanoate</text>
<text class="t" x="183" y="705.2" textLength="56" lengthAdjust="spacingAndGlyphs">metabolism</text>
<rect class="m" x="493.5" y="516.5" width="78" height="35" rx="11" ry="11"/>
<text class="t" x="505" y="533.7" textLength="41.98" lengthAdjust="spacingAndGlyphs">Methane</text>
<text class="t" x="505" y="544.7" textLength="56" lengthAdjust="spacingAndGlyphs">metabolism</text>
<rect class="m" x="768.5" y="516.5" width="78" height="35" rx="11" ry="11"/>
<text class="t" x="780.5" y="533.7" textLength="55.33" lengthAdjust="spacingAndGlyphs">Methionine</text>
<text class="t" x="780.5" y="544.7" textLength="56" lengthAdjust="spacingAndGlyphs">metabolism</text>
<rect class="m" x="72.5" y="797.5" width="79" height="35" rx="11" ry="11"/>
<text class="t" x="83" y="814.7" textLength="55.33" lengthAdjust="spacingAndGlyphs">Methionine</text>
<text class="t" x="83" y="825.7" textLength="56" lengthAdjust="spacingAndGlyphs">metabolism</text>
<rect class="m" x="1005.5" y="622.5" width="119" height="35" rx="11" ry="11"/>
<text class="t" x="1015" y="639.2" textLength="92.97" lengthAdjust="spacingAndGlyphs">Glycine, serine and</text>
<text class="t" x="1015" y="650.2" textLength="104.31" lengthAdjust="spacingAndGlyphs">threonine metabolism</text>
<polygon class="c" points="93.5,158.5 97.5,158.5 99.5,160.5 99.5,164.5 97.5,166.5 93.5,166.5 91.5,164.5 91.5,160.5"/>
<polygon class="c" points="242.5,158.5 246.5,158.5 248.5,160.5 248.5,164.5 246.5,166.5 242.5,166.5 240.5,164.5 240.5,160.5"/>
<polygon class="c" points="317.5,158.5 321.5,158.5 323.5,160.5 323.5,164.5 321.5,166.5 317.5,166.5 315.5,164.5 315.5,160.5"/>
<polygon class="c" points="242.5,258.5 246.5,258.5 248.5,260.5 248.5,264.5 246.5,266.5 242.5,266.5 240.5,264.5 240.5,260.5"/>
<polygon class="c" points="317.5,258.5 321.5,258.5 323.5,260.5 323.5,264.5 321.5,266.5 317.5,266.5 315.5,264.5 315.5,260.5"/>
<polygon class="c" points="93.5,366.5 97.5,366.5 99.5,368.5 99.5,372.5 97.5,374.5 93.5,374.5 91.5,372.5 91.5,368.5"/>
<polygon class="c" points="93.5,484.5 97.5,484.5 99.5,486.5 99.5,490.5 97.5,492.5 93.5,492.5 91.5,490.5 91.5,486.5"/>
<polygon class="c" points="93.5,584.5 97.5,584.5 99.5,586.5 99.5,590.5 97.5,592.5 93.5,592.5 91.5,590.5 91.5,586.5"/>
<polygon class="c" points="93.5,661.5 97.5,661.5 99.5,663.5 99.5,667.5 97.5,669.5 93.5,669.5 91.5,667.5 91.5,663.5"/>
<polygon class="c" points="392.5,187.5 396.5,187.5 398.5,189.5 398.5,193.5 396.5,195.5 392.5,195.5 390.5,193.5 390.5,189.5"/>
<polygon class="c" points="497.5,188.5 501.5,188.5 503.5,190.5 503.5,194.5 501.5,196.5 497.5,196.5 495.5,194.5 495.5,190.5"/>
<polygon class="c" points="593.5,136.5 597.5,136.5 599.5,138.5 599.5,142.5 597.5,144.5 593.5,144.5 591.5,142.5 591.5,138.5"/>
<polygon class="c" points="861.5,218.5 865.5,218.5 867.5,220.5 867.5,224.5 865.5,226.5 861.5,226.5 859.5,224.5 859.5,220.5"/>
<polygon class="c" points="392.5,366.5 396.5,366.5 398.5,368.5 398.5,372.5 396.5,374.5 392.5,374.5 390.5,372.5 390.5,368.5"/>
<polygon class="c" points="565.5,366.5 569.5,366.5 571.5,368.5 571.5,372.5 569.5,374.5 565.5,374.5 563.5,372.5 563.5,368.5"/>
<polygon class="c" points="739.5,366.5 743.5,366.5 745.5,368.5 745.5,372.5 743.5,374.5 739.5,374.5 737.5,372.5 737.5,368.5"/>
<polygon class="c" points="508.5,403.5 512.5,403.5 514.5,405.5 514.5,409.5 512.5,411.5 508.5,411.5 506.5,409.5 506.5,405.5"/>
<polygon class="c" points="623.5,403.5 627.5,403.5 629.5,405.5 629.5,409.5 627.5,411.5 623.5,411.5 621.5,409.5 621.5,405.5"/>
<polygon class="c" points="539.5,450.5 543.5,450.5 545.5,452.5 545.5,456.5 543.5,458.5 539.5,458.5 537.5,456.5 537.5,452.5"/>
<polygon class="c" points="392.5,493.5 396.5,493.5 398.5,495.5 398.5,499.5 396.5,501.5 392.5,501.5 390.5,499.5 390.5,495.5"/>
<polygon class="c" points="392.5,556.5 396.5,556.5 398.5,558.5 398.5,562.5 396.5,564.5 392.5,564.5 390.5,562.5 390.5,558.5"/>
<polygon class="c" points="392.5,619.5 396.5,619.5 398.5,621.5 398.5,625.5 396.5,627.5 392.5,627.5 390.5,625.5 390.5,621.5"/>
<polygon class="c" points="564.5,619.5 568.5,619.5 570.5,621.5 570.5,625.5 568.5,627.5 564.5,627.5 562.5,625.5 562.5,621.5"/>
<polygon class="c" points="739.5,619.5 743.5,619.5 745.5,621.5 745.5,625.5 743.5,627.5 739.5,627.5 737.5,625.5 737.5,621.5"/>
<polygon class="c" points="620.5,529.5 624.5,529.5 626.5,531.5 626.5,535.5 624.5,537.5 620.5,537.5 618.5,535.5 618.5,531.5"/>
<polygon class="c" points="309.5,650.5 313.5,650.5 315.5,652.5 315.5,656.5 313.5,658.5 309.5,658.5 307.5,656.5 307.5,652.5"/>
<polygon class="c" points="309.5,689.5 313.5,689.5 315.5,691.5 315.5,695.5 313.5,697.5 309.5,697.5 307.5,695.5 307.5,691.5"/>
<polygon class="c" points="402.5,689.5 406.5,689.5 408.5,691.5 408.5,695.5 406.5,697.5 402.5,697.5 400.5,695.5 400.5,691.5"/>
<polygon class="c" points="495.5,689.5 499.5,689.5 501.5,691.5 501.5,695.5 499.5,697.5 495.5,697.5 493.5,695.5 493.5,691.5"/>
<polygon class="c" points="779.5,691.5 783.5,691.5 785.5,693.5 785.5,697.5 783.5,699.5 779.5,699.5 777.5,697.5 777.5,693.5"/>
<polygon class="c" points="739.5,760.5 743.5,760.5 745.5,762.5 745.5,766.5 743.5,768.5 739.5,768.5 737.5,766.5 737.5,762.5"/>
<polygon class="c" points="185.5,808.5 189.5,808.5 191.5,810.5 191.5,814.5 189.5,816.5 185.5,816.5 183.5,814.5 183.5,810.5"/>
<polygon class="c" points="290.5,809.5 294.5,809.5 296.5,811.5 296.5,815.5 294.5,817.5 290.5,817.5 288.5,815.5 288.5,811.5"/>
<polygon class="c" points="380.5,809.5 384.5,809.5 386.5,811.5 386.5,815.5 384.5,817.5 380.5,817.5 378.5,815.5 378.5,811.5"/>
<polygon class="c" points="470.5,809.5 474.5,809.5 476.5,811.5 476.5,815.5 474.5,817.5 470.5,817.5 468.5,815.5 468.5,811.5"/>
<polygon class="c" points="564.5,809.5 568.5,809.5 570.5,811.5 570.5,815.5 568.5,817.5 564.5,817.5 562.5,815.5 562.5,811.5"/>
<polygon class="c" points="185.5,860.5 189.5,860.5 191.5,862.5 191.5,866.5 189.5,868.5 185.5,868.5 183.5,866.5 183.5,862.5"/>
<polygon class="c" points="302.5,860.5 306.5,860.5 308.5,862.5 308.5,866.5 306.5,868.5 302.5,868.5 300.5,866.5 300.5,862.5"/>
<polygon class="c" points="413.5,860.5 417.5,860.5 419.5,862.5 419.5,866.5 417.5,868.5 413.5,868.5 411.5,866.5 411.5,862.5"/>
<polygon class="c" points="564.5,874.5 568.5,874.5 570.5,876.5 570.5,880.5 568.5,882.5 564.5,882.5 562.5,880.5 562.5,876.5"/>
<polygon class="c" points="739.5,874.5 743.5,874.5 745.5,876.5 745.5,880.5 743.5,882.5 739.5,882.5 737.5,880.5 737.5,876.5"/>
<polygon class="c" points="927.5,185.5 931.5,185.5 933.5,187.5 933.5,191.5 931.5,193.5 927.5,193.5 925.5,191.5 925.5,187.5"/>
<polygon class="c" points="927.5,281.5 931.5,281.5 933.5,283.5 933.5,287.5 931.5,289.5 927.5,289.5 925.5,287.5 925.5,283.5"/>
<polygon class="c" points="1013.5,281.5 1017.5,281.5 1019.5,283.5 1019.5,287.5 1017.5,289.5 1013.5,289.5 1011.5,287.5 1011.5,283.5"/>
<polygon class="c" points="1039.5,366.5 1043.5,366.5 1045.5,368.5 1045.5,372.5 1043.5,374.5 1039.5,374.5 1037.5,372.5 1037.5,368.5"/>
<polygon class="c" points="1039.5,452.5 1043.5,452.5 1045.5,454.5 1045.5,458.5 1043.5,460.5 1039.5,460.5 1037.5,458.5 1037.5,454.5"/>
<polygon class="c" points="927.5,537.5 931.5,537.5 933.5,539.5 933.5,543.5 931.5,545.5 927.5,545.5 925.5,543.5 925.5,539.5"/>
<polygon class="c" points="1013.5,537.5 1017.5,537.5 1019.5,539.5 1019.5,543.5 1017.5,545.5 1013.5,545.5 1011.5,543.5 1011.5,539.5"/>
<polygon class="c" points="927.5,635.5 931.5,635.5 933.5,637.5 933.5,641.5 931.5,643.5 927.5,643.5 925.5,641.5 925.5,637.5"/>
<polygon class="c" points="202.5,1012.5 206.5,1012.5 208.5,1014.5 208.5,1018.5 206.5,1020.5 202.5,1020.5 200.5,1018.5 200.5,1014.5"/>
<polygon class="c" points="332.5,1012.5 336.5,1012.5 338.5,1014.5 338.5,1018.5 336.5,1020.5 332.5,1020.5 330.5,1018.5 330.5,1014.5"/>
<polygon class="c" points="462.5,1012.5 466.5,1012.5 468.5,1014.5 468.5,1018.5 466.5,1020.5 462.5,1020.5 460.5,1018.5 460.5,1014.5"/>
<polygon class="c" points="592.5,1012.5 596.5,1012.5 598.5,1014.5 598.5,1018.5 596.5,1020.5 592.5,1020.5 590.5,1018.5 590.5,1014.5"/>
<polygon class="c" points="1077.5,1012.5 1081.5,1012.5 1083.5,1014.5 1083.5,1018.5 1081.5,1020.5 1077.5,1020.5 1075.5,1018.5 1075.5,1014.5"/>
<polygon class="c" points="202.5,1078.5 206.5,1078.5 208.5,1080.5 208.5,1084.5 206.5,1086.5 202.5,1086.5 200.5,1084.5 200.5,1080.5"/>
<polygon class="c" points="332.5,1078.5 336.5,1078.5 338.5,1080.5 338.5,1084.5 336.5,1086.5 332.5,1086.5 330.5,1084.5 330.5,1080.5"/>
<polygon class="c" points="592.5,1078.5 596.5,1078.5 598.5,1080.5 598.5,1084.5 596.5,1086.5 592.5,1086.5 590.5,1084.5 590.5,1080.5"/>
<polygon class="c" points="1077.5,1078.5 1081.5,1078.5 1083.5,1080.5 1083.5,1084.5 1081.5,1086.5 1077.5,1086.5 1075.5,1084.5 1075.5,1080.5"/>
<polygon class="c" points="202.5,1146.5 206.5,1146.5 208.5,1148.5 208.5,1152.5 206.5,1154.5 202.5,1154.5 200.5,1152.5 200.5,1148.5"/>
<polygon class="c" points="764.5,1146.5 768.5,1146.5 770.5,1148.5 770.5,1152.5 768.5,1154.5 764.5,1154.5 762.5,1152.5 762.5,1148.5"/>
<polygon class="c" points="202.5,1261.5 206.5,1261.5 208.5,1263.5 208.5,1267.5 206.5,1269.5 202.5,1269.5 200.5,1267.5 200.5,1263.5"/>
<polygon class="c" points="674.5,1261.5 678.5,1261.5 680.5,1263.5 680.5,1267.5 678.5,1269.5 674.5,1269.5 672.5,1267.5 672.5,1263.5"/>
<polygon class="c" points="764.5,1261.5 768.5,1261.5 770.5,1263.5 770.5,1267.5 768.5,1269.5 764.5,1269.5 762.5,1267.5 762.5,1263.5"/>
<polygon class="c" points="920.5,1315.5 924.5,1315.5 926.5,1317.5 926.5,1321.5 924.5,1323.5 920.5,1323.5 918.5,1321.5 918.5,1317.5"/>
<polygon class="c" points="1077.5,1315.5 1081.5,1315.5 1083.5,1317.5 1083.5,1321.5 1081.5,1323.5 1077.5,1323.5 1075.5,1321.5 1075.5,1317.5"/>
<polygon class="c" points="920.5,1359.5 924.5,1359.5 926.5,1361.5 926.5,1365.5 924.5,1367.5 920.5,1367.5 918.5,1365.5 918.5,1361.5"/>
<polygon class="c" points="1077.5,1359.5 1081.5,1359.5 1083.5,1361.5 1083.5,1365.5 1081.5,1367.5 1077.5,1367.5 1075.5,1365.5 1075.5,1361.5"/>
<text class="t" x="96" y="146.2" text-anchor="middle" textLength="33.99" lengthAdjust="spacingAndGlyphs">Sulfate</text>
<text class="t" x="96" y="156.2" text-anchor="middle" textLength="67.96" lengthAdjust="spacingAndGlyphs">(extracellular)</text>
<text class="t" x="244.5" y="146.2" text-anchor="middle" textLength="36.48" lengthAdjust="spacingAndGlyphs">Taurine</text>
<text class="t" x="244.5" y="156.2" text-anchor="middle" textLength="67.96" lengthAdjust="spacingAndGlyphs">(extracellular)</text>
<text class="t" x="324" y="146.2" text-anchor="middle" textLength="78.64" lengthAdjust="spacingAndGlyphs">Alkanesulfonate</text>
<text class="t" x="324" y="156.2" text-anchor="middle" textLength="67.96" lengthAdjust="spacingAndGlyphs">(extracellular)</text>
<text class="t" x="235" y="268.7" text-anchor="end" textLength="36.48" lengthAdjust="spacingAndGlyphs">Taurine</text>
<text class="t" x="269" y="262.2" textLength="38.65" lengthAdjust="spacingAndGlyphs">Alkane-</text>
<text class="t" x="269" y="273.2" textLength="43.99" lengthAdjust="spacingAndGlyphs">sulfonate</text>
<text class="t" x="88" y="391.2" text-anchor="end" textLength="33.99" lengthAdjust="spacingAndGlyphs">Sulfate</text>
<text class="t" x="88" y="497.2" text-anchor="end" textLength="22.01" lengthAdjust="spacingAndGlyphs">APS</text>
<text class="t" x="85.5" y="594.2" text-anchor="end" textLength="27.58" lengthAdjust="spacingAndGlyphs">PAPS</text>
<text class="t" x="95.5" y="684.2" text-anchor="middle" textLength="20.91" lengthAdjust="spacingAndGlyphs">PAP</text>
<text class="t" x="391" y="182.2" text-anchor="middle" textLength="52.9" lengthAdjust="spacingAndGlyphs">Trithionate</text>
<text class="t" x="505.5" y="218.2" textLength="54.65" lengthAdjust="spacingAndGlyphs">Thiosulfate</text>
<text class="t" x="575.5" y="126.2" textLength="63.13" lengthAdjust="spacingAndGlyphs">Tetrathionate</text>
<text class="t" x="870.5" y="228.7" textLength="30" lengthAdjust="spacingAndGlyphs">Sulfur</text>
<text class="t" x="410.5" y="388.2" textLength="32" lengthAdjust="spacingAndGlyphs">Sulfite</text>
<text class="t" x="758.5" y="387.7" textLength="34.67" lengthAdjust="spacingAndGlyphs">Sulfide</text>
<text class="t" x="510.5" y="390.2" textLength="117.65" lengthAdjust="spacingAndGlyphs">[DsrC protein]-trisulfide</text>
<text class="t" x="468.5" y="428.2" textLength="42.66" lengthAdjust="spacingAndGlyphs">(Sulfide)</text>
<text class="t" x="607" y="428.7" textLength="42.66" lengthAdjust="spacingAndGlyphs">(Sulfide)</text>
<text class="t" x="507" y="473.2" textLength="105.33" lengthAdjust="spacingAndGlyphs">S-Sulfanylglutathione</text>
<text class="t" x="403" y="496.2" textLength="45.98" lengthAdjust="spacingAndGlyphs">Methane-</text>
<text class="t" x="403" y="506.7" textLength="43.99" lengthAdjust="spacingAndGlyphs">sulfonate</text>
<text class="t" x="407" y="558.2" textLength="49.33" lengthAdjust="spacingAndGlyphs">Dimethyl-</text>
<text class="t" x="407" y="568.7" textLength="35.33" lengthAdjust="spacingAndGlyphs">sulfone</text>
<text class="t" x="384.5" y="626.7" text-anchor="end" textLength="34.67" lengthAdjust="spacingAndGlyphs">DMSO</text>
<text class="t" x="565.5" y="610.2" text-anchor="middle" textLength="26.01" lengthAdjust="spacingAndGlyphs">DMS</text>
<text class="t" x="751" y="643.7" textLength="63.99" lengthAdjust="spacingAndGlyphs">Methanethiol</text>
<text class="t" x="589" y="554.2" textLength="63.34" lengthAdjust="spacingAndGlyphs">Methyl-CoM</text>
<text class="t" x="311.5" y="645.2" text-anchor="middle" textLength="53.98" lengthAdjust="spacingAndGlyphs">Propanoate</text>
<text class="t" x="250.5" y="719.2" textLength="56.66" lengthAdjust="spacingAndGlyphs">3-Hydroxy-</text>
<text class="t" x="250.5" y="730.2" textLength="53.31" lengthAdjust="spacingAndGlyphs">propanoate</text>
<text class="t" x="409" y="681.2" text-anchor="middle" textLength="69.33" lengthAdjust="spacingAndGlyphs">Acryloyl-CoA</text>
<text class="t" x="483" y="711.7" textLength="41.31" lengthAdjust="spacingAndGlyphs">Acrylate</text>
<text class="t" x="777.5" y="715.7" textLength="65.97" lengthAdjust="spacingAndGlyphs">Acetaldehyde</text>
<text class="t" x="751" y="763.7" textLength="57.33" lengthAdjust="spacingAndGlyphs">Methylthio-</text>
<text class="t" x="751" y="774.7" textLength="65.99" lengthAdjust="spacingAndGlyphs">acryloyl-CoA</text>
<text class="t" x="192" y="800.7" text-anchor="middle" textLength="66.65" lengthAdjust="spacingAndGlyphs">L-Methionine</text>
<text class="t" x="275" y="793.7" textLength="49.33" lengthAdjust="spacingAndGlyphs">S-Methyl-</text>
<text class="t" x="275" y="804.2" textLength="65.32" lengthAdjust="spacingAndGlyphs">L-methionine</text>
<text class="t" x="363" y="804.2" textLength="66" lengthAdjust="spacingAndGlyphs">DMSP-amine</text>
<text class="t" x="429.5" y="834.2" textLength="79.99" lengthAdjust="spacingAndGlyphs">DMSP-aldehyde</text>
<text class="t" x="562.5" y="806.2" text-anchor="end" textLength="32.68" lengthAdjust="spacingAndGlyphs">DMSP</text>
<text class="t" x="187.5" y="887.7" text-anchor="middle" textLength="34.45" lengthAdjust="spacingAndGlyphs">MTOB</text>
<text class="t" x="301.5" y="885.7" text-anchor="middle" textLength="34.67" lengthAdjust="spacingAndGlyphs">MTHB</text>
<text class="t" x="415.5" y="886.7" text-anchor="middle" textLength="42.68" lengthAdjust="spacingAndGlyphs">DMSHB</text>
<text class="t" x="529" y="897.7" textLength="75.32" lengthAdjust="spacingAndGlyphs">3-(Methylthio)-</text>
<text class="t" x="529" y="908.2" textLength="53.31" lengthAdjust="spacingAndGlyphs">propanoate</text>
<text class="t" x="753" y="875.7" textLength="75.32" lengthAdjust="spacingAndGlyphs">3-(Methylthio)-</text>
<text class="t" x="753" y="886.7" textLength="75.33" lengthAdjust="spacingAndGlyphs">propanoyl-CoA</text>
<text class="t" x="918" y="194.7" text-anchor="end" textLength="41.98" lengthAdjust="spacingAndGlyphs">L-Serine</text>
<text class="t" x="941" y="284.2" textLength="48.65" lengthAdjust="spacingAndGlyphs">O-Acetyl-</text>
<text class="t" x="941" y="294.7" textLength="39.98" lengthAdjust="spacingAndGlyphs">L-serine</text>
<text class="t" x="1001" y="274.2" textLength="36.64" lengthAdjust="spacingAndGlyphs">Acetate</text>
<text class="t" x="1019.5" y="388.2" textLength="53.32" lengthAdjust="spacingAndGlyphs">L-Cysteine</text>
<text class="t" x="1025" y="480.7" textLength="80.65" lengthAdjust="spacingAndGlyphs">L-Homocysteine</text>
<text class="t" x="938.5" y="545.7" textLength="58.65" lengthAdjust="spacingAndGlyphs">O-Succinyl-</text>
<text class="t" x="938.5" y="556.2" textLength="67.32" lengthAdjust="spacingAndGlyphs">L-homoserine</text>
<text class="t" x="1027" y="548.2" textLength="46.65" lengthAdjust="spacingAndGlyphs">Succinate</text>
<text class="t" x="929" y="661.7" text-anchor="middle" textLength="69.98" lengthAdjust="spacingAndGlyphs">L-Homoserine</text>
<text class="t" x="102.5" y="951.7" textLength="72.99" lengthAdjust="spacingAndGlyphs">Oxidation state</text>
<text class="t" x="198.5" y="951.2" textLength="12.77" lengthAdjust="spacingAndGlyphs">+6</text>
<text class="t" x="588.5" y="950.7" textLength="12.77" lengthAdjust="spacingAndGlyphs">+4</text>
<text class="t" x="761" y="950.7" textLength="12.77" lengthAdjust="spacingAndGlyphs">+2</text>
<text class="t" x="920.5" y="950.7" textLength="6" lengthAdjust="spacingAndGlyphs">0</text>
<text class="t" x="1074.5" y="950.7" textLength="10" lengthAdjust="spacingAndGlyphs">-2</text>
<text class="t" x="196" y="1021.7" text-anchor="end" textLength="33.99" lengthAdjust="spacingAndGlyphs">Sulfate</text>
<text class="t" x="334" y="1038.2" text-anchor="middle" textLength="22.01" lengthAdjust="spacingAndGlyphs">APS</text>
<text class="t" x="464.5" y="1035.7" text-anchor="middle" textLength="27.58" lengthAdjust="spacingAndGlyphs">PAPS</text>
<text class="t" x="592.5" y="1035.7" text-anchor="middle" textLength="32" lengthAdjust="spacingAndGlyphs">Sulfite</text>
<text class="t" x="1090.5" y="1022.2" textLength="34.67" lengthAdjust="spacingAndGlyphs">Sulfide</text>
<text class="t" x="196" y="1087.7" text-anchor="end" textLength="33.99" lengthAdjust="spacingAndGlyphs">Sulfate</text>
<text class="t" x="334" y="1103.7" text-anchor="middle" textLength="22.01" lengthAdjust="spacingAndGlyphs">APS</text>
<text class="t" x="592.5" y="1100.7" text-anchor="middle" textLength="32" lengthAdjust="spacingAndGlyphs">Sulfite</text>
<text class="t" x="1090.5" y="1088.7" textLength="34.67" lengthAdjust="spacingAndGlyphs">Sulfide</text>
<text class="t" x="196" y="1155.7" text-anchor="end" textLength="33.99" lengthAdjust="spacingAndGlyphs">Sulfate</text>
<text class="t" x="779.5" y="1156.2" textLength="54.65" lengthAdjust="spacingAndGlyphs">Thiosulfate</text>
<text class="t" x="241" y="1207.7" textLength="64.67" lengthAdjust="spacingAndGlyphs">SoxYZ-S-SH</text>
<text class="t" x="693" y="1207.7" textLength="54" lengthAdjust="spacingAndGlyphs">SoxYZ-SH</text>
<text class="t" x="196" y="1270.7" text-anchor="end" textLength="33.99" lengthAdjust="spacingAndGlyphs">Sulfate</text>
<text class="t" x="637" y="1286.7" textLength="63.13" lengthAdjust="spacingAndGlyphs">Tetrathionate</text>
<text class="t" x="779.5" y="1270.7" textLength="54.65" lengthAdjust="spacingAndGlyphs">Thiosulfate</text>
<text class="t" x="910.5" y="1324.2" text-anchor="end" textLength="30" lengthAdjust="spacingAndGlyphs">Sulfur</text>
<text class="t" x="1090.5" y="1324.2" textLength="34.67" lengthAdjust="spacingAndGlyphs">Sulfide</text>
<text class="t" x="910.5" y="1368.7" text-anchor="end" textLength="30" lengthAdjust="spacingAndGlyphs">Sulfur</text>
<text class="t" x="1090.5" y="1368.7" textLength="34.67" lengthAdjust="spacingAndGlyphs">Sulfide</text>
<text class="t" x="16" y="1396.7" textLength="69.67" lengthAdjust="spacingAndGlyphs">00920 8/19/25</text>
<text class="t" x="16" y="1408.7" textLength="124.61" lengthAdjust="spacingAndGlyphs">(c) Kanehisa Laboratories</text>
<text class="t" x="512.5" y="427.5" style="font-size:9.5px">n-1</text>
<text class="t" x="653" y="428.5" style="font-size:9.5px">n</text>
<text class="t" x="469" y="1155.8" textLength="79" lengthAdjust="spacingAndGlyphs">SoxYZ-S-S-SO<tspan style="font-size:10px" dy="0.5">3</tspan></text>
<text class="t" x="453" y="1207.7" textLength="69" lengthAdjust="spacingAndGlyphs">SoxYZ-S-SO<tspan style="font-size:10px" dy="0.5">3</tspan></text>
<text class="bold" x="105" y="983" textLength="154.44" lengthAdjust="spacingAndGlyphs">Assimilatory sulfate reduction</text>
<text class="bold" x="105" y="1060" textLength="231.14" lengthAdjust="spacingAndGlyphs">Dissimilatory sulfate reduction and oxidation</text>
<text class="bold" x="105" y="1131" textLength="62.33" lengthAdjust="spacingAndGlyphs">SOX system</text>
<text class="bold" x="105" y="1245" textLength="64.35" lengthAdjust="spacingAndGlyphs">S4I pathway</text>
<text class="bold" x="105" y="1301.5" textLength="84.58" lengthAdjust="spacingAndGlyphs">Sulfur reduction</text>
<text class="bold" x="105" y="1343.5" textLength="87.03" lengthAdjust="spacingAndGlyphs">Sulfide oxidation</text>
</svg>
</body></html>
